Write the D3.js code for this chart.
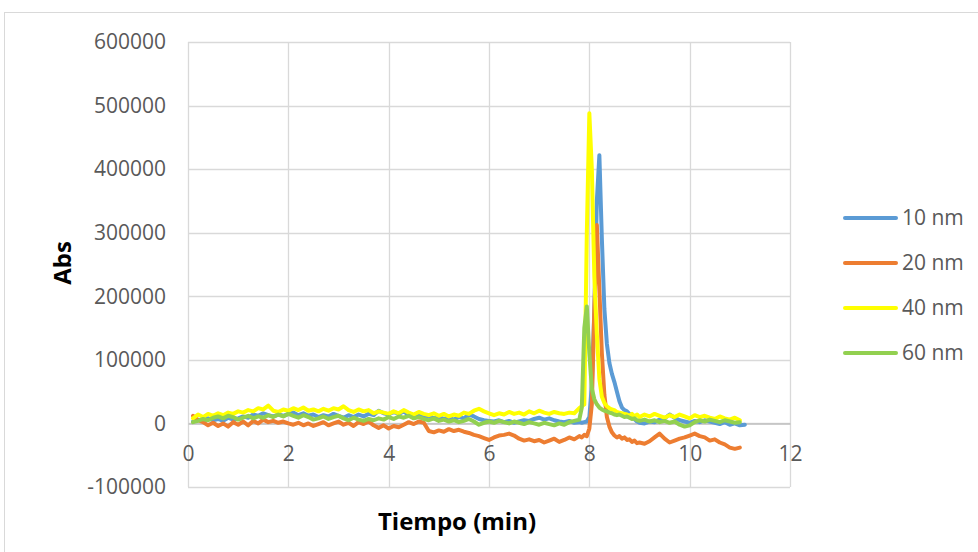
<!DOCTYPE html>
<html><head><meta charset="utf-8">
<script src="https://cdn.jsdelivr.net/npm/d3@7"></script>
<style>
html,body{margin:0;padding:0;background:#fff;}
svg{display:block;font-family:"Open Sans","Liberation Sans",sans-serif;}
</style></head>
<body><svg id="c" width="978" height="552"></svg>
<script>
const seriesNames = ["10 nm","20 nm","40 nm","60 nm"];
const seriesColors = ["#5B9BD5","#ED7D31","#FFFF00","#92D050"];
const xTicks = [0,2,4,6,8,10,12];
const yTicks = [-100000,0,100000,200000,300000,400000,500000,600000];

const time = [0.1,0.2,0.3,0.4,0.5,0.6,0.7,0.8,0.9,1.0,
1.1,1.2,1.3,1.4,1.5,1.6,1.7,1.8,1.9,2.0,
2.1,2.2,2.3,2.4,2.5,2.6,2.7,2.8,2.9,3.0,
3.1,3.2,3.3,3.4,3.5,3.6,3.7,3.8,3.9,4.0,
4.1,4.2,4.3,4.4,4.5,4.6,4.7,4.8,4.9,5.0,
5.1,5.2,5.3,5.4,5.5,5.6,5.7,5.8,5.9,6.0,
6.1,6.2,6.3,6.4,6.5,6.6,6.7,6.8,6.9,7.0,
7.1,7.2,7.3,7.4,7.5,7.6,7.7,7.8,
7.85,7.9,7.95,8.0,8.05,8.1,8.15,8.2,8.25,8.3,8.35,8.4,8.45,8.5,8.55,8.6,8.65,8.7,8.75,8.8,8.85,8.9,8.95,
9.0,9.1,9.2,9.3,9.4,9.5,9.6,9.7,9.8,9.9,10.0,10.1,10.2,10.3,10.4,10.5,10.6,10.7,10.8,10.9,11.0,11.1];

const abs10 = [3000,6000,4000,8000,5000,7000,4000,9000,6000,8000,
11000,9000,14000,12000,16000,13000,11000,14000,12000,15000,
17000,13000,16000,12000,14000,10000,13000,11000,15000,12000,
9000,13000,10000,14000,11000,15000,13000,20000,16000,14000,
18000,15000,19000,13000,11000,14000,9000,12000,8000,10000,
7000,9000,6000,10000,8000,14000,11000,7000,5000,4000,
3000,5000,2000,4000,1000,3000,5000,4000,7000,9000,
6000,8000,5000,3000,2000,4000,1000,2000,
1000,2000,3000,10000,60000,180000,350000,422000,290000,180000,125000,95000,78000,65000,50000,35000,25000,21000,19000,15000,11000,7000,3000,
1000,0,3000,2000,6000,8000,14000,9000,5000,3000,1000,4000,2000,5000,3000,1000,-1000,2000,-2000,0,-3000,-2000];

const abs20 = [12000,5000,2000,-3000,1000,-4000,0,-5000,2000,-2000,
3000,-3000,4000,0,6000,2000,4000,1000,3000,0,
-2000,1000,-3000,0,-4000,-1000,2000,-3000,0,3000,
-2000,1000,-4000,2000,-1000,3000,-3000,-7000,-3000,-8000,
-4000,-6000,-2000,2000,-1000,3000,1000,-12000,-14000,-11000,
-13000,-9000,-12000,-10000,-13000,-15000,-18000,-20000,-23000,-26000,
-22000,-19000,-18000,-16000,-19000,-24000,-27000,-25000,-28000,-26000,
-30000,-27000,-24000,-29000,-26000,-22000,-25000,-20000,
-22000,-18000,-20000,-8000,30000,180000,312000,210000,110000,45000,10000,-5000,-14000,-19000,-22000,-20000,-24000,-22000,-26000,-25000,-29000,-27000,-31000,
-30000,-32000,-28000,-22000,-16000,-24000,-30000,-27000,-24000,-22000,-19000,-16000,-20000,-22000,-27000,-25000,-30000,-33000,-38000,-40000,-38000,null];

const abs40 = [8000,14000,10000,15000,12000,16000,13000,17000,15000,19000,
17000,21000,19000,24000,22000,28000,20000,18000,22000,20000,
24000,21000,25000,20000,22000,19000,23000,20000,24000,22000,
27000,21000,18000,22000,19000,21000,16000,19000,17000,15000,
19000,16000,21000,17000,14000,18000,15000,13000,16000,12000,
15000,11000,14000,12000,17000,15000,20000,23000,19000,16000,
13000,16000,14000,18000,15000,17000,14000,19000,16000,20000,
17000,15000,18000,16000,15000,17000,16000,24000,
27000,30000,300000,488000,400000,230000,140000,70000,42000,32000,27000,24000,22000,21000,18000,17000,16000,15000,14000,12000,15000,11000,14000,
10000,14000,11000,15000,12000,9000,13000,10000,14000,11000,8000,13000,10000,12000,9000,7000,11000,8000,6000,9000,5000,null];

const abs60 = [2000,4000,7000,5000,9000,11000,8000,12000,10000,6000,
9000,12000,8000,11000,9000,13000,10000,14000,11000,15000,
12000,9000,13000,10000,6000,8000,11000,7000,10000,12000,
8000,5000,9000,6000,4000,7000,5000,8000,6000,10000,
7000,11000,9000,12000,8000,10000,7000,5000,8000,4000,
6000,3000,5000,2000,4000,7000,3000,-2000,1000,3000,
1000,4000,2000,0,3000,1000,-1000,2000,0,-2000,
1000,-1000,-3000,0,-2000,2000,4000,6000,
25000,150000,184000,110000,55000,38000,30000,25000,22000,20000,19000,17000,16000,14000,13000,14000,12000,10000,11000,9000,7000,8000,5000,
4000,6000,3000,5000,2000,4000,1000,3000,-2000,-5000,-3000,2000,5000,3000,6000,4000,2000,5000,3000,1000,2000,null];

const seriesValues = [abs10, abs20, abs40, abs60];

const svg = d3.select("#c");
const FS = 21;
const textColor = "#595959";
const gridColor = "#d9d9d9";

// outer chart border
svg.append("rect").attr("x",4.5).attr("y",12.5).attr("width",990).attr("height",600)
  .attr("fill","none").attr("stroke","#d9d9d9").attr("stroke-width",1);

const x = d3.scaleLinear().domain([0,12]).range([188,790]);
const y = d3.scaleLinear().domain([-100000,600000]).range([487,42]);

// gridlines
const g = svg.append("g");
g.selectAll("line.h").data(yTicks).join("line")
  .attr("x1",x(0)).attr("x2",x(12))
  .attr("y1",d=>Math.round(y(d))+0.5).attr("y2",d=>Math.round(y(d))+0.5)
  .attr("stroke",gridColor).attr("stroke-width",1.3);
g.selectAll("line.v").data(xTicks).join("line")
  .attr("y1",y(600000)).attr("y2",y(-100000))
  .attr("x1",d=>Math.round(x(d))+0.5).attr("x2",d=>Math.round(x(d))+0.5)
  .attr("stroke",gridColor).attr("stroke-width",1.3);

// y axis
const ya = svg.append("g").attr("transform",`translate(${x(0)},0)`)
  .call(d3.axisLeft(y).tickValues(yTicks).tickSize(0).tickPadding(22).tickFormat(d=>String(d)));
ya.select(".domain").remove();
ya.selectAll("text").attr("font-size",FS).attr("fill",textColor).attr("font-family","'Open Sans',sans-serif");

// x axis at y=0
const xa = svg.append("g").attr("transform",`translate(0,${Math.round(y(0))+0.5})`)
  .call(d3.axisBottom(x).tickValues(xTicks).tickSize(0).tickPadding(23).tickFormat(d=>String(d)));
xa.select(".domain").attr("stroke","#bfbfbf").attr("stroke-width",1.3);
xa.selectAll("text").attr("font-size",FS).attr("fill",textColor).attr("font-family","'Open Sans',sans-serif");

// lines
const line = d3.line()
  .defined(d=>d[1]!==null)
  .x(d=>x(d[0])).y(d=>y(d[1]));
seriesValues.forEach((vals,i)=>{
  const pts = time.map((t,j)=>[t, vals[j]===undefined?null:vals[j]]);
  svg.append("path").datum(pts)
    .attr("d",line).attr("fill","none")
    .attr("stroke",seriesColors[i]).attr("stroke-width",4)
    .attr("stroke-linejoin","round").attr("stroke-linecap","round");
});

// axis titles
svg.append("text").attr("transform","translate(71,263) rotate(-90)")
  .attr("text-anchor","middle").attr("font-size",24).attr("font-weight","bold")
  .attr("fill","#000").text("Abs");
svg.append("text").attr("x",457).attr("y",530)
  .attr("text-anchor","middle").attr("font-size",24).attr("font-weight","bold")
  .attr("fill","#000").text("Tiempo (min)");

// legend
const leg = svg.append("g");
seriesNames.forEach((n,i)=>{
  const ly = 218 + i*45;
  leg.append("line").attr("x1",845).attr("x2",896).attr("y1",ly).attr("y2",ly)
    .attr("stroke",seriesColors[i]).attr("stroke-width",4).attr("stroke-linecap","round");
  leg.append("text").attr("x",902).attr("y",ly).attr("dy","0.35em")
    .attr("font-size",FS).attr("fill",textColor).text(n);
});
</script>
</body></html>
